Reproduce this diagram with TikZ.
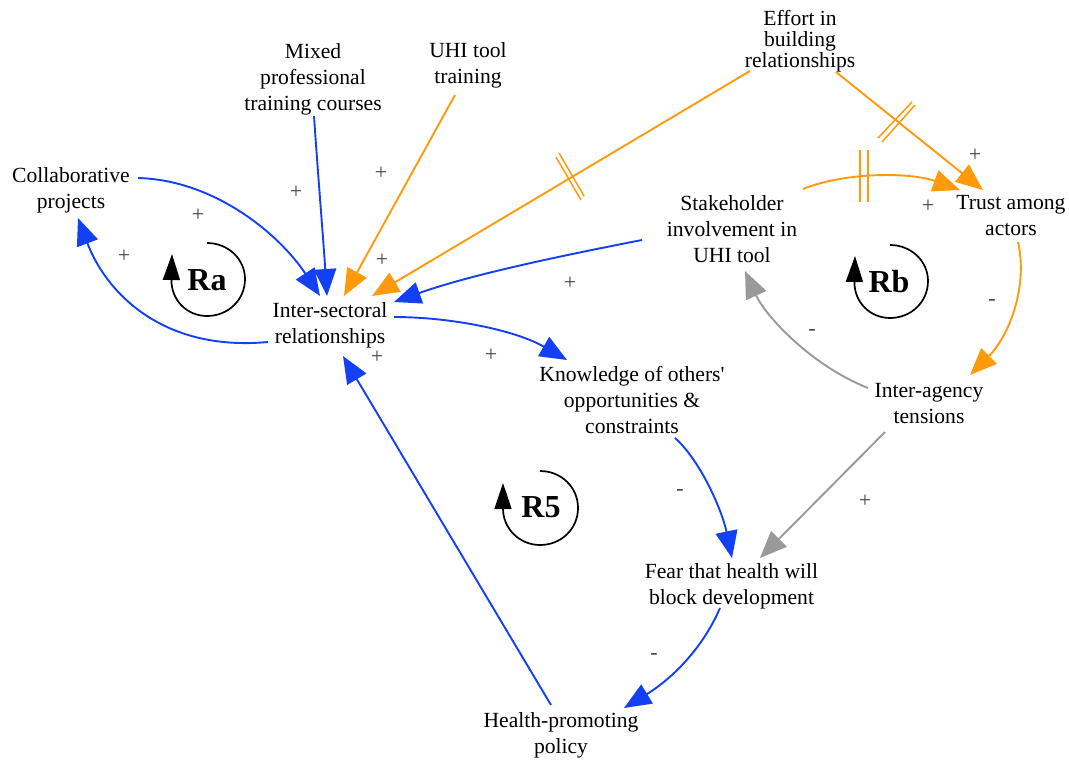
\documentclass[tikz,border=0pt]{standalone}
\usepackage{fontspec}
\setmainfont{Liberation Serif}
\newfontfamily\plainserif{Liberation Serif}
\usetikzlibrary{arrows.meta}
\definecolor{cblue}{HTML}{1440F5}
\definecolor{corange}{HTML}{FF9A0A}
\definecolor{cgray}{HTML}{999999}
\definecolor{csign}{HTML}{444444}
\tikzset{
  x=1pt,y=-1pt,
  lab/.style={align=center,inner sep=0pt,font=\fontsize{21.6}{26}\selectfont},
  tightlab/.style={align=center,inner sep=0pt,font=\fontsize{21.6}{21}\selectfont},
  sign/.style={inner sep=0pt,text=csign,font=\fontsize{22}{22}\selectfont},
  loopname/.style={inner sep=0pt,font=\fontsize{32}{32}\selectfont\bfseries},
  conn/.style={line width=1.9pt},
  bluec/.style={conn,draw=cblue,-{Triangle[length=27pt,width=22pt,fill=cblue]}},
  orangec/.style={conn,draw=corange,-{Triangle[length=27pt,width=22pt,fill=corange]}},
  grayc/.style={conn,draw=cgray,-{Triangle[length=27pt,width=22pt,fill=cgray]}},
  delay/.style={line width=1.5pt,draw=corange},
  loopc/.style={line width=1.7pt,draw=black,-{Triangle[length=26pt,width=17pt,fill=black]}}
}
\begin{document}
\begin{tikzpicture}
\useasboundingbox (0,0) rectangle (1069,761);
\fill[white] (0,0) rectangle (1069,761);
% nodes
\node[lab] (collab) at (71,190) {Collaborative\\projects};
\node[lab] (mixed) at (313,79) {Mixed\\professional\\training courses};
\node[lab] (uhi) at (468,65) {UHI tool\\training};
\node[tightlab] (effort) at (800,41.5) {Effort in\\building\\relationships};
\node[lab] (stake) at (732,229) {Stakeholder\\involvement in\\UHI tool};
\node[lab] (trust) at (1011,216) {Trust among\\actors};
\node[lab] (inter) at (330,325) {Inter-sectoral\\relationships};
\node[lab] (know) at (632,400) {Knowledge of others{\plainserif'}\\opportunities \&\\constraints};
\node[lab] (agency) at (929,404) {Inter-agency\\tensions};
\node[lab] (fear) at (731.5,586) {Fear that health will\\block development};
\node[lab] (health) at (561,735.5) {Health-promoting\\policy};
% connectors
\draw[bluec] ([shift={(67,-12)}]collab.center) .. controls (215,180) and (280,235) .. ([shift={(-10,-29)}]inter.center);
\draw[bluec] ([shift={(1,37)}]mixed.center) .. controls (318,175) and (323,235) .. ([shift={(-3,-29)}]inter.center);
\draw[orangec] ([shift={(-13,30)}]uhi.center) -- ([shift={(14,-29)}]inter.center);
\draw[orangec] ([shift={(-50,29.5)}]effort.center) -- ([shift={(42,-29)}]inter.center);
\draw[bluec] ([shift={(-90,11)}]stake.center) .. controls (555,257) and (470,275) .. ([shift={(64,-23)}]inter.center);
\draw[bluec] ([shift={(64,-8)}]inter.center) .. controls (450,317) and (515,330) .. ([shift={(-65,-40)}]know.center);
\draw[bluec] ([shift={(-62,17)}]inter.center) .. controls (160,352) and (105,290) .. ([shift={(7,28)}]collab.center);
\draw[bluec] ([shift={(-10,-30.5)}]health.center) -- ([shift={(13,31)}]inter.center);
\draw[bluec] ([shift={(43,38)}]know.center) .. controls (700,460) and (722,510) .. ([shift={(0.5,-28)}]fear.center);
\draw[grayc] ([shift={(-44,28)}]agency.center) -- ([shift={(28.5,-28)}]fear.center);
\draw[grayc] ([shift={(-61,-16)}]agency.center) .. controls (810,365) and (765,315) .. ([shift={(13,42)}]stake.center);
\draw[orangec] ([shift={(7,26)}]trust.center) .. controls (1028,285) and (1010,335) .. ([shift={(41,-29)}]agency.center);
\draw[bluec] ([shift={(-11.5,22)}]fear.center) .. controls (702,650) and (670,680) .. ([shift={(63,-27.5)}]health.center);
\draw[orangec] ([shift={(71,-40)}]stake.center) .. controls (845,172) and (910,172) .. ([shift={(-51,-26)}]trust.center);
\draw[orangec] ([shift={(36,30.5)}]effort.center) -- ([shift={(-28,-26)}]trust.center);
% delay marks
\draw[delay] (556,157) -- (581,200);
\draw[delay] (559,153) -- (584,196);
\draw[delay] (878,138) -- (912,102);
\draw[delay] (882,142) -- (915,105);
\draw[delay] (860,150) -- (860,202);
\draw[delay] (868,150) -- (868,202);
% signs
\foreach \n/\p in {p1/{(381,173)},p2/{(296,192)},p3/{(198,215)},p4/{(124,256)},p5/{(382,260)},p6/{(570,283)},p7/{(377,357)},p8/{(491,355)},p9/{(975,155)},p10/{(928,206)},p11/{(865,501)}}
  \node[sign] (\n) at \p {+};
\foreach \n/\p in {m1/{(812,332)},m2/{(992,302)},m3/{(680,492)},m4/{(654,656)}}
  \node[sign] (\n) at \p {-};
% loops
\node[loopname] (ra) at (207,280) {Ra};
\node[loopname] (rb) at (889,282) {Rb};
\node[loopname] (r5) at (541,507) {R5};
\draw[loopc] (207,243) .. controls (228,243) and (245,259) .. (245,279) .. controls (245,300) and (228,316) .. (207,316) .. controls (187,316) and (171,300) .. (172,254);
\draw[loopc] (890,245) .. controls (911,245) and (928,261) .. (928,281) .. controls (928,302) and (911,318) .. (890,318) .. controls (870,318) and (854,302) .. (855,256);
\draw[loopc] (540,471) .. controls (561,471) and (578,487) .. (578,508) .. controls (578,529) and (561,545) .. (540,545) .. controls (520,545) and (503,529) .. (503,483);
\end{tikzpicture}
\end{document}
